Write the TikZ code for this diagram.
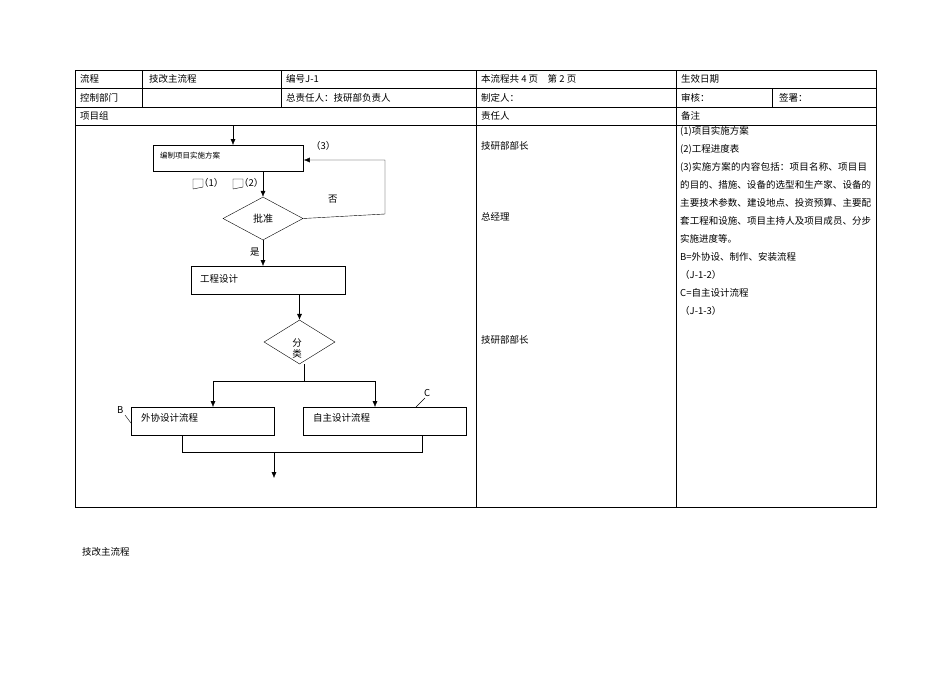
\documentclass[tikz,border=0pt]{standalone}
\usepackage{fontspec}
\setmainfont{Liberation Serif}
\newfontfamily\cjk{Noto Sans CJK SC}
\XeTeXlinebreaklocale "zh"
\XeTeXlinebreakskip = 0pt plus 1pt
\usetikzlibrary{shapes.geometric,arrows.meta}
\tikzset{txt/.style={anchor=west,inner sep=0pt,font=\cjk\fontsize{9.5}{11}\selectfont},
  box/.style={draw,thick,rectangle},
  dia/.style={draw,diamond,aspect=1.8,inner sep=0pt}}
\begin{document}
\begin{tikzpicture}[x=1pt,y=-1pt,>={Latex[length=6pt,width=5pt]}]
\useasboundingbox (0,0) rectangle (950,672);
% table
\draw (75,70) rectangle (876,507);
\foreach \y in {88,107,125} \draw (75,\y) -- (876,\y);
\draw (142,70) -- (142,107) (281,70) -- (281,107) (772,88) -- (772,107);
\draw (476,70) -- (476,507) (676,70) -- (676,507);
\node[txt] at (80,79) {流程};
\node[txt] at (149,79) {技改主流程};
\node[txt] at (286,79) {编号J-1};
\node[txt] at (481,79) {本流程共 4 页\quad 第 2 页};
\node[txt] at (681,79) {生效日期};
\node[txt] at (80,98) {控制部门};
\node[txt] at (286,98) {总责任人：技研部负责人};
\node[txt] at (481,98) {制定人：};
\node[txt] at (681,98) {审核：};
\node[txt] at (779,98) {签署：};
\node[txt] at (80,116) {项目组};
\node[txt] at (481,116) {责任人};
\node[txt] at (681,116) {备注};
\node[txt] at (481,146) {技研部部长};
\node[txt] at (481,217) {总经理};
\node[txt] at (481,340) {技研部部长};
\node[txt,align=left,anchor=north west,text width=192pt,
  font=\cjk\fontsize{9.5}{18}\selectfont] at (680,126)
  {(1)项目实施方案\\(2)工程进度表\\(3)实施方案的内容包括：项目名称、项目目的目的、措施、设备的选型和生产家、设备的主要技术参数、建设地点、投资预算、主要配套工程和设施、项目主持人及项目成员、分步实施进度等。\\B=外协设、制作、安装流程\\（J-1-2）\\C=自主设计流程\\（J-1-3）};
% flow
\coordinate (top) at (233,125);
\node[box,minimum width=150pt,minimum height=26pt,anchor=north west] (plan) at (153,145) {};
\node[txt,font=\cjk\fontsize{7.5}{9}\selectfont] at (160,156) {编制项目实施方案};
\node[txt] at (311,146) {（3）};
\node[dia,minimum width=80pt,minimum height=43pt] (ok) at (263,218.5) {\cjk 批准};
\node[box,minimum width=154pt,minimum height=28pt,anchor=north west] (eng) at (191,266) {};
\node[txt] at (200,279) {工程设计};
\node[dia,minimum width=71pt,minimum height=44pt] (cls) at (299.5,342) {};
\node[txt,align=center,anchor=center] at (297,348) {分\\类};
\node[box,minimum width=143pt,minimum height=28pt,anchor=north west] (bb) at (131,407) {};
\node[txt] at (141,418) {外协设计流程};
\node[box,minimum width=163pt,minimum height=28pt,anchor=north west] (cb) at (303,407) {};
\node[txt] at (313,418) {自主设计流程};
\coordinate (end) at (274,478);
\draw[->] (top) -- (plan.north -| top);
\draw[->] (plan.south -| ok) -- (ok.north);
\draw[->] (ok.east) -- (385,214) -- (385,160) -- (plan.east |- 0,160);
\node[txt] at (328,199) {否};
\draw[->] (ok.south) -- (eng.north -| ok);
\node[txt] at (250,252) {是};
\draw[->] (eng.south -| cls) -- (cls.north);
\draw (304,364) -- (304,381);
\draw[->] (213,381) -- (bb.north -| 213,0);
\draw[->] (213,381) -- (375,381) -- (cb.north -| 375,0);
\draw (bb.south -| 182,0) -- (182,452) -- (422,452) -- (cb.south -| 422,0);
\draw[->] (274,452) -- (end);
\node[txt] at (117,410) {B};
\draw (125,415) -- (bb.west |- 0,423);
\node[txt] at (424,393) {C};
\draw (416,407) -- (425,398);
\foreach \x/\t in {193/（1）,233/（2）}{
  \draw (\x,179) -- (\x+10,179) -- (\x+10,187) -- (\x,189) -- cycle;
  \node[txt] at (\x+6,183) {\t};}
\node[txt] at (82,552) {技改主流程};
\end{tikzpicture}
\end{document}
